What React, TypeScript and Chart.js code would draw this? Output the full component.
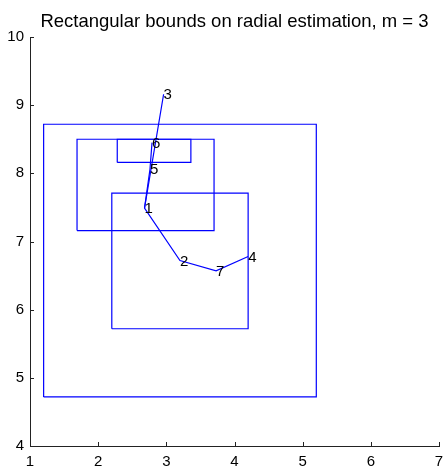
import React, { useEffect, useRef } from "react";
import { Chart, registerables } from "chart.js";

Chart.register(...registerables);

const TITLE = "Rectangular bounds on radial estimation, m = 3";
const X_MIN = 1;
const X_MAX = 7;
const Y_MIN = 4;
const Y_MAX = 10;

// rectangles as [xmin, xmax, ymin, ymax]
const RECT_OUTER = [1.2, 5.2, 4.72, 8.72];
const RECT_UPPER = [1.69, 3.7, 7.16, 8.5];
const RECT_LOWER = [2.2, 4.2, 5.72, 7.71];
const RECT_SMALL = [2.28, 3.36, 8.16, 8.5];

// estimation points
const POINT_IDS = ["1", "2", "3", "4", "5", "6", "7"];
const POINT_X = [2.68, 3.2, 2.96, 4.2, 2.76, 2.79, 3.73];
const POINT_Y = [7.49, 6.72, 9.16, 6.78, 8.06, 8.45, 6.57];

// connecting paths (by point id)
const PATH_A = ["4", "7", "2", "1", "3"];
const PATH_B = ["1", "5", "6"];

const BLUE = "#0000ff";
const AXIS = "#222222";
const FONT = "'Liberation Sans', Arial, Helvetica, sans-serif";

function rectPts(r: number[]) {
  const [x0, x1, y0, y1] = r;
  return [
    { x: x0, y: y0 },
    { x: x1, y: y0 },
    { x: x1, y: y1 },
    { x: x0, y: y1 },
    { x: x0, y: y0 },
  ];
}

function pathPts(ids: string[]) {
  return ids.map((id) => {
    const i = POINT_IDS.indexOf(id);
    return { x: POINT_X[i], y: POINT_Y[i] };
  });
}

const lineDs = (data: { x: number; y: number }[]) => ({
  data,
  showLine: true,
  borderColor: BLUE,
  backgroundColor: BLUE,
  borderWidth: 1.2,
  pointRadius: 0,
  fill: false,
  tension: 0,
});

const decorPlugin = {
  id: "decor",
  afterDraw(chart: any) {
    const { ctx, chartArea, scales } = chart;
    const xs = scales.x;
    const ys = scales.y;
    ctx.save();
    // inward ticks
    ctx.strokeStyle = AXIS;
    ctx.lineWidth = 1;
    ctx.beginPath();
    for (let v = X_MIN; v <= X_MAX; v++) {
      const px = Math.round(xs.getPixelForValue(v)) + 0.5;
      ctx.moveTo(px, chartArea.bottom);
      ctx.lineTo(px, chartArea.bottom - 4);
    }
    for (let v = Y_MIN; v <= Y_MAX; v++) {
      const py = Math.round(ys.getPixelForValue(v)) + 0.5;
      ctx.moveTo(chartArea.left, py);
      ctx.lineTo(chartArea.left + 4, py);
    }
    ctx.stroke();
    // point labels
    ctx.fillStyle = "#000";
    ctx.font = `15px ${FONT}`;
    ctx.textAlign = "left";
    ctx.textBaseline = "middle";
    POINT_IDS.forEach((id, i) => {
      const px = xs.getPixelForValue(POINT_X[i]);
      const py = ys.getPixelForValue(POINT_Y[i]);
      ctx.fillText(id, px, py + 1);
    });
    // title
    ctx.font = `18.5px ${FONT}`;
    ctx.textAlign = "center";
    ctx.textBaseline = "alphabetic";
    ctx.fillText(TITLE, (chartArea.left + chartArea.right) / 2, 27);
    ctx.restore();
  },
};

export default function App() {
  const ref = useRef<HTMLCanvasElement | null>(null);
  useEffect(() => {
    if (!ref.current) return;
    const chart = new Chart(ref.current, {
      type: "scatter",
      data: {
        datasets: [
          lineDs(rectPts(RECT_OUTER)),
          lineDs(rectPts(RECT_UPPER)),
          lineDs(rectPts(RECT_LOWER)),
          lineDs(rectPts(RECT_SMALL)),
          lineDs(pathPts(PATH_A)),
          lineDs(pathPts(PATH_B)),
        ] as any,
      },
      options: {
        responsive: false,
        animation: false,
        layout: { padding: { top: 37, right: 5, left: 0, bottom: 0 } },
        plugins: {
          legend: { display: false },
          tooltip: { enabled: false },
          title: { display: false },
        },
        scales: {
          x: {
            type: "linear",
            min: X_MIN,
            max: X_MAX,
            ticks: {
              stepSize: 1,
              color: "#000",
              font: { family: FONT, size: 15 },
              padding: 7,
              maxRotation: 0,
            },
            grid: { display: false, drawTicks: false },
            border: { display: true, color: AXIS, width: 1 },
            afterFit: (s: any) => {
              s.height = 20;
              s.paddingLeft = 0;
              s.paddingRight = 0;
            },
          },
          y: {
            type: "linear",
            min: Y_MIN,
            max: Y_MAX,
            ticks: {
              stepSize: 1,
              color: "#000",
              font: { family: FONT, size: 15 },
              padding: 6,
            },
            grid: { display: false, drawTicks: false },
            border: { display: true, color: AXIS, width: 1 },
            afterFit: (s: any) => {
              s.width = 30;
              s.paddingTop = 0;
              s.paddingBottom = 0;
            },
          },
        },
      },
      plugins: [decorPlugin],
    });
    return () => chart.destroy();
  }, []);
  return (
    <div style={{ position: "fixed", left: 0, top: 0, width: 444, height: 466, background: "#fff" }}>
      <canvas ref={ref} width={444} height={466} />
    </div>
  );
}
